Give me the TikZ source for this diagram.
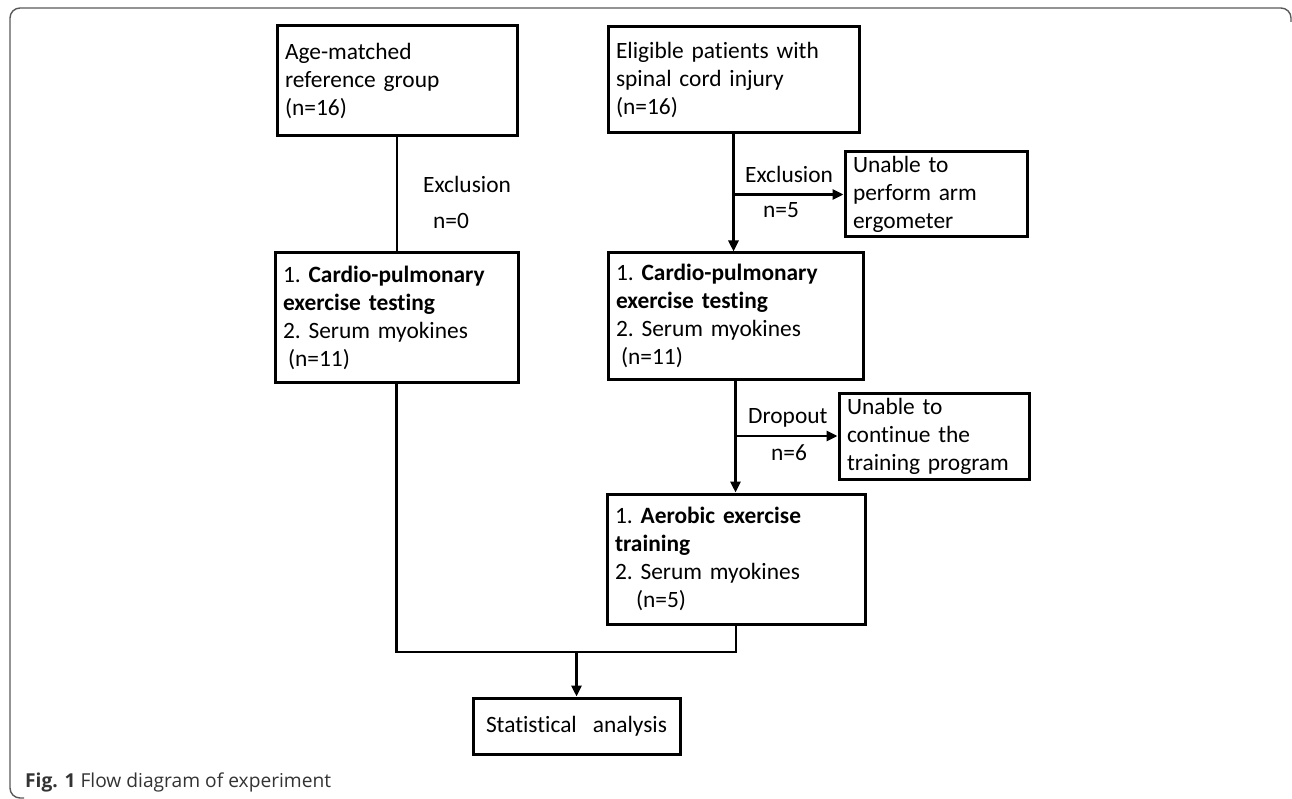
\documentclass[tikz,border=0pt]{standalone}
\usepackage{fontspec}
\setmainfont[Ligatures=NoCommon]{Carlito}
\newfontfamily\capfont{Open Sans}
\usetikzlibrary{arrows.meta}
\newcommand{\boxfont}{\frenchspacing\fontsize{23.4}{28}\selectfont}
\tikzset{
  box/.style={draw, line width=3pt, inner xsep=8pt, inner ysep=3pt, align=left, font=\boxfont},
  lbl/.style={inner sep=0pt, font=\boxfont},
  flow/.style={line width=2.7pt},
  flowarr/.style={flow, -{Triangle[length=11pt,width=10pt]}},
  frame/.style={draw=black!65, line width=1.4pt, rounded corners=10pt},
}
\begin{document}
\begin{tikzpicture}[x=1pt, y=-1pt]
\useasboundingbox (0,0) rectangle (1292,799);
\draw[frame] (24,798) -- (10,798) -- (10,8) -- (1291,8) -- (1291,22);
% boxes
\node[box, text width=224pt, minimum height=110pt] (refgrp) at (397,81) {Age-matched\\reference group\\(n=16)};
\node[box, text width=235pt, minimum height=106pt] (elig) at (733.5,80) {Eligible patients with\\spinal cord injury\\(n=16)};
\node[box, text width=227pt, minimum height=129pt] (cpL) at (396.5,317.5) {1. \textbf{Cardio-pulmonary}\\\textbf{exercise testing}\\2. Serum myokines\\\hspace*{5pt}(n=11)};
\node[box, text width=239pt, minimum height=126pt] (cpR) at (735.5,316) {1. \textbf{Cardio-pulmonary}\\\textbf{exercise testing}\\2. Serum myokines\\\hspace*{5pt}(n=11)};
\node[box, text width=166pt, minimum height=85pt] (uaArm) at (936,194.5) {Unable to\\perform arm\\ergometer};
\node[box, text width=174pt, minimum height=86pt] (uaTrain) at (934,436) {Unable to\\continue the\\training program};
\node[box, text width=242pt, minimum height=130pt] (aer) at (736,559) {1. \textbf{Aerobic exercise}\\\textbf{training}\\2. Serum myokines\\\hspace*{21pt}(n=5)};
\node[box, align=center, minimum width=207pt, minimum height=56pt] (stat) at (576.5,726) {Statistical\hspace{16pt}analysis};
% labels
\node[lbl, anchor=base west] (exL) at (423,193) {Exclusion};
\node[lbl, anchor=base west] (exLn) at (433,229) {n=0};
\node[lbl, anchor=base west] (exR) at (745,183) {Exclusion};
\node[lbl, anchor=base west] (exRn) at (763,218) {n=5};
\node[lbl, anchor=base west] (dropR) at (748,423) {Dropout};
\node[lbl, anchor=base west] (dropRn) at (771,460) {n=6};
% connectors
\draw[flow] (refgrp.south) -- (refgrp.south |- cpL.north);
\draw[flowarr] (elig.south) -- (elig.south |- cpR.north);
\draw[flowarr] (elig.south |- uaArm.west) -- (uaArm.west);
\draw[flowarr] (cpR.south) -- (cpR.south |- aer.north);
\draw[flowarr] (cpR.south |- uaTrain.west) -- (uaTrain.west);
\coordinate (mrg) at (576.5,652);
\draw[flow] (cpL.south) |- (mrg) -| (aer.south);
\draw[flowarr] (mrg) -- (stat.north);
% caption
\node[inner sep=0pt, anchor=base west, font=\capfont\fontsize{19.2}{23}\selectfont, text=black!80] (cap) at (25,787) {\textbf{Fig. 1} Flow diagram of experiment};
\end{tikzpicture}
\end{document}
